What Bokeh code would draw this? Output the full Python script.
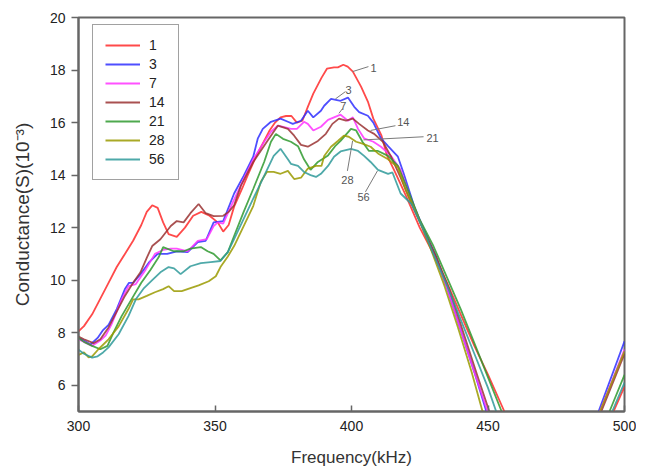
from bokeh.plotting import figure
from bokeh.models import Range1d, Legend, LegendItem, FixedTicker
from bokeh.embed import file_html
from bokeh.resources import INLINE
from bokeh.core.properties import value

FONT = "Liberation Sans"

# ---------------- data ----------------
series_labels = ["1", "3", "7", "14", "21", "28", "56"]

freq_1 = [300, 302, 305, 308, 311, 314, 317, 320, 323, 325, 327, 329, 331, 333, 336, 339, 342, 345, 348, 351, 353, 355, 357, 360, 362, 365, 367, 370, 372, 374, 376, 378, 380, 382, 384, 386, 389, 391, 393.6, 395, 397, 398.6, 400.5, 403.5, 406, 408, 411, 413, 416, 420, 425, 430, 435, 440, 445, 450, 456, 460, 492, 496, 500]
cond_1 = [8.05, 8.25, 8.7, 9.3, 9.9, 10.5, 11.0, 11.5, 12.1, 12.6, 12.85, 12.75, 12.2, 11.75, 11.65, 12.0, 12.45, 12.6, 12.45, 12.2, 11.85, 12.1, 12.8, 13.5, 14.0, 14.7, 15.1, 15.7, 16.0, 16.2, 16.25, 16.25, 16.0, 16.07, 16.6, 17.1, 17.7, 18.05, 18.1, 18.1, 18.2, 18.13, 17.94, 17.37, 16.8, 16.15, 15.5, 14.75, 14.1, 13.2, 12.0, 11.0, 9.9, 8.7, 7.5, 6.4, 5.0, 4.0, 4.0, 5.0, 5.95]

freq_3 = [300, 302, 304.4, 307, 309, 311, 314, 317, 318.5, 320, 322.5, 326, 329, 332.5, 336, 340, 343.7, 346.6, 349.5, 353, 357, 360.5, 364, 365.7, 367.5, 370.5, 374, 376.7, 378.5, 381.5, 384, 386, 388.8, 390, 392.5, 396, 398.7, 401, 402.8, 406, 408, 410.8, 413.4, 417, 419, 423, 427, 431, 435, 440, 445, 449.4, 453, 487, 490.5, 500]
cond_3 = [7.8, 7.7, 7.55, 7.8, 8.1, 8.3, 8.9, 9.66, 9.9, 9.9, 10.2, 10.7, 11.0, 11.0, 11.1, 11.07, 11.45, 11.5, 12.2, 12.25, 13.3, 13.97, 14.7, 15.4, 15.76, 16.03, 16.15, 16.03, 15.95, 16.07, 16.45, 16.2, 16.45, 16.64, 16.9, 16.83, 16.95, 16.6, 16.4, 16.26, 16.0, 15.4, 15.1, 14.7, 14.1, 12.8, 11.8, 10.9, 9.7, 8.1, 6.5, 5.0, 4.0, 4.0, 5.0, 7.67]

freq_7 = [300, 302, 305, 308, 310, 312, 314, 315.8, 318.3, 321, 324.6, 328, 331, 333.8, 336, 340, 343.7, 347, 349.5, 351, 353, 355.8, 360.5, 364, 368, 370.5, 373, 375, 377.8, 380, 382.6, 384, 386, 388.8, 391.4, 393.6, 396, 398.7, 400.5, 402.4, 404.6, 408, 410.8, 414.5, 418, 422, 426, 431, 435, 440, 445, 450, 454, 488, 491, 500]
cond_7 = [7.75, 7.65, 7.5, 7.7, 7.9, 8.3, 8.8, 9.27, 9.77, 9.85, 10.4, 11.0, 11.15, 11.2, 11.2, 11.1, 11.5, 11.56, 12.06, 12.2, 12.15, 12.8, 13.85, 14.6, 15.27, 15.65, 15.88, 15.84, 15.76, 15.76, 16.03, 15.95, 15.7, 15.84, 16.1, 16.2, 16.3, 16.07, 16.2, 15.76, 15.4, 15.27, 15.08, 14.73, 14.2, 13.0, 12.0, 10.8, 9.7, 8.1, 6.5, 4.95, 4.0, 4.0, 5.0, 7.37]

freq_14 = [300, 302, 305.5, 308, 311, 314, 317, 320, 322.7, 325, 327, 330, 333.8, 336, 338.5, 341, 344, 346.6, 349.5, 353, 355, 357, 359.5, 362, 364, 369, 373, 376.7, 379, 381.5, 384, 387.7, 390.6, 393, 395.4, 398, 400.5, 402.8, 406, 408.3, 411.5, 414.5, 418, 422, 426, 431, 436, 441, 446, 450.5, 454, 488, 491.5, 500]
cond_14 = [7.85, 7.75, 7.6, 7.75, 8.2, 8.8, 9.4, 9.9, 10.3, 10.85, 11.3, 11.56, 12.06, 12.25, 12.2, 12.55, 12.9, 12.55, 12.44, 12.45, 12.6, 12.85, 13.6, 14.1, 14.5, 15.27, 15.88, 15.76, 15.5, 15.15, 15.08, 15.3, 15.57, 15.95, 16.15, 16.07, 16.15, 15.95, 15.7, 15.57, 15.27, 14.7, 13.9, 12.9, 12.0, 10.9, 9.6, 8.0, 6.4, 5.0, 4.0, 4.0, 5.0, 7.2]

freq_21 = [300, 302, 305, 308, 310.6, 312.8, 315.8, 319.4, 323, 326.4, 329.4, 331, 334.9, 338.5, 341, 344.8, 347.3, 349.5, 352, 354.7, 357, 360.5, 364, 368, 370.5, 372.3, 374.9, 377.8, 380.4, 382.6, 385, 387.7, 391.4, 394, 396, 399.8, 401.7, 404, 406.4, 409.7, 413.4, 417, 420, 425, 430, 435, 440, 445, 450, 455, 458, 491, 494.5, 500]
cond_21 = [7.8, 7.65, 7.5, 7.37, 7.5, 8.0, 8.63, 9.27, 9.9, 10.4, 10.88, 11.26, 11.1, 11.1, 11.2, 11.26, 11.1, 11.0, 10.75, 11.07, 11.68, 12.6, 13.47, 14.5, 15.27, 15.57, 15.38, 15.27, 15.1, 14.6, 14.2, 14.5, 14.75, 15.1, 15.3, 15.76, 15.7, 15.27, 14.92, 14.92, 14.73, 14.35, 13.6, 12.3, 11.3, 10.1, 8.9, 7.6, 6.3, 5.0, 4.0, 4.0, 5.0, 6.4]

freq_28 = [300, 302, 303.7, 305, 307.3, 311, 314.7, 318.3, 320, 322, 325, 328, 331, 333, 335, 337.8, 341, 344, 347.7, 350.3, 352, 354.7, 357, 360.5, 364, 366.8, 369, 371.5, 374, 376.7, 379, 381.5, 384, 387, 389, 390, 392.5, 395, 397.2, 399, 401.7, 404, 407, 410, 413.4, 417, 420, 424, 429, 434, 439, 444, 448, 451, 488, 491, 500]
cond_28 = [7.15, 7.25, 7.06, 7.1, 7.37, 7.75, 8.24, 8.9, 9.27, 9.27, 9.4, 9.54, 9.66, 9.77, 9.58, 9.58, 9.7, 9.8, 9.96, 10.15, 10.5, 10.9, 11.3, 12.06, 12.82, 13.75, 14.12, 14.12, 14.05, 14.16, 13.85, 13.9, 14.25, 14.35, 14.35, 14.73, 15.08, 15.3, 15.5, 15.46, 15.27, 15.2, 15.08, 14.8, 14.6, 14.3, 13.4, 12.5, 11.2, 9.8, 8.2, 6.5, 5.0, 4.0, 4.0, 5.0, 7.3]

freq_56 = [300, 302, 305, 307, 309, 311, 314.7, 318.3, 321, 324, 327, 330, 333, 335, 337.4, 341, 344.8, 348.4, 352, 354.7, 357, 360.5, 364, 368, 371.5, 374, 376.7, 377.8, 380.4, 382.6, 385, 387, 388.8, 391.4, 393.6, 396, 399.8, 402.4, 404.6, 407, 409.7, 413.4, 415, 418, 422, 426, 430, 435, 440, 445, 450, 453, 456, 491, 495.5, 500]
cond_56 = [7.35, 7.2, 7.05, 7.1, 7.25, 7.44, 7.94, 8.63, 9.27, 9.7, 10.0, 10.3, 10.5, 10.45, 10.23, 10.53, 10.65, 10.69, 10.73, 11.07, 11.56, 12.33, 13.1, 13.97, 14.73, 15.0, 14.6, 14.43, 14.35, 14.12, 14.0, 13.93, 14.05, 14.35, 14.7, 14.9, 15.0, 14.92, 14.73, 14.5, 14.2, 14.05, 14.1, 13.3, 12.9, 12.0, 11.0, 9.8, 8.5, 7.2, 5.9, 5.0, 4.0, 4.0, 5.0, 6.1]

x_ticks = [300, 350, 400, 450, 500]
y_ticks = [6, 8, 10, 12, 14, 16, 18, 20]

# callout labels: point on curve, end of leader, label position
ann_text = ["1", "3", "7", "14", "21", "28", "56"]
ann_x0 = [400.4, 394.1, 395.4, 407.0, 404.4, 400.4, 409.5]
ann_y0 = [17.94, 16.9, 16.35, 15.7, 15.34, 15.3, 14.16]
ann_x1 = [406.2, 397.8, 396.7, 416.1, 426.4, 398.5, 405.1]
ann_y1 = [18.13, 17.18, 16.53, 15.88, 15.46, 14.16, 13.36]
ann_tx = [408.1, 398.9, 397.0, 419.0, 429.7, 398.5, 404.4]
ann_ty = [18.09, 17.25, 16.64, 16.03, 15.42, 13.82, 13.17]

colors = ["#ff2a2a", "#2f2fff", "#ff33ff", "#9a3333", "#2f9a2f", "#9a9a00", "#2f9a9a"]

freqs = [freq_1, freq_3, freq_7, freq_14, freq_21, freq_28, freq_56]
conds = [cond_1, cond_3, cond_7, cond_14, cond_21, cond_28, cond_56]

# ---------------- figure ----------------
AX = "#666666"
p = figure(frame_width=546, frame_height=394,
           min_border_left=78, min_border_right=12,
           min_border_top=17, min_border_bottom=59,
           x_range=Range1d(300, 500), y_range=Range1d(5, 20),
           output_backend="svg", toolbar_location=None)
p.background_fill_color = "white"
p.border_fill_color = "white"
p.xgrid.visible = False
p.ygrid.visible = False
p.outline_line_color = AX
p.outline_line_width = 2

p.xaxis.ticker = FixedTicker(ticks=x_ticks)
p.yaxis.ticker = FixedTicker(ticks=y_ticks)
for ax in (p.xaxis[0], p.yaxis[0]):
    ax.axis_line_color = AX
    ax.axis_line_width = 2
    ax.major_tick_line_color = AX
    ax.major_tick_line_width = 1.5
    ax.minor_tick_line_color = None
    ax.major_label_text_font = FONT
    ax.major_label_text_font_size = "14px"
    ax.major_label_text_color = "#222222"
    ax.axis_label_text_font = FONT
    ax.axis_label_text_font_style = "normal"
    ax.axis_label_text_color = "#333333"

p.xaxis.major_tick_in = 6
p.xaxis.major_tick_out = 0
p.xaxis.major_label_standoff = 9
p.xaxis.axis_label = "Frequency(kHz)"
p.xaxis.axis_label_text_font_size = "17px"
p.xaxis.axis_label_standoff = 14

p.yaxis.major_tick_in = 0
p.yaxis.major_tick_out = 7
p.yaxis.major_label_standoff = 6
p.yaxis.axis_label = "Conductance(S)(10\u207b\u00b3)"
p.yaxis.axis_label_text_font_size = "19px"
p.yaxis.axis_label_standoff = 14

items = []
for lab, f, c, col in zip(series_labels, freqs, conds, colors):
    r = p.line(f, c, line_color=col, line_width=1.8, line_alpha=0.85)
    items.append(LegendItem(label=lab, renderers=[r]))

p.segment(ann_x0, ann_y0, ann_x1, ann_y1, line_color="#7a7a7a", line_width=1)
p.text(ann_tx, ann_ty, text=ann_text, text_align="center", text_baseline="middle",
       text_font=value(FONT), text_font_size="11px", text_color="#555555")

legend = Legend(items=items, location=(14, 231), margin=0, padding=12, spacing=3,
                glyph_width=35, glyph_height=16, label_height=16, label_width=17,
                label_standoff=9, label_text_font=FONT, label_text_font_size="14px",
                label_text_color="#222222", border_line_color="#444444",
                border_line_width=1.5, background_fill_color="white",
                background_fill_alpha=1.0)
p.add_layout(legend)

open("out.html", "w").write(file_html(p, INLINE))
